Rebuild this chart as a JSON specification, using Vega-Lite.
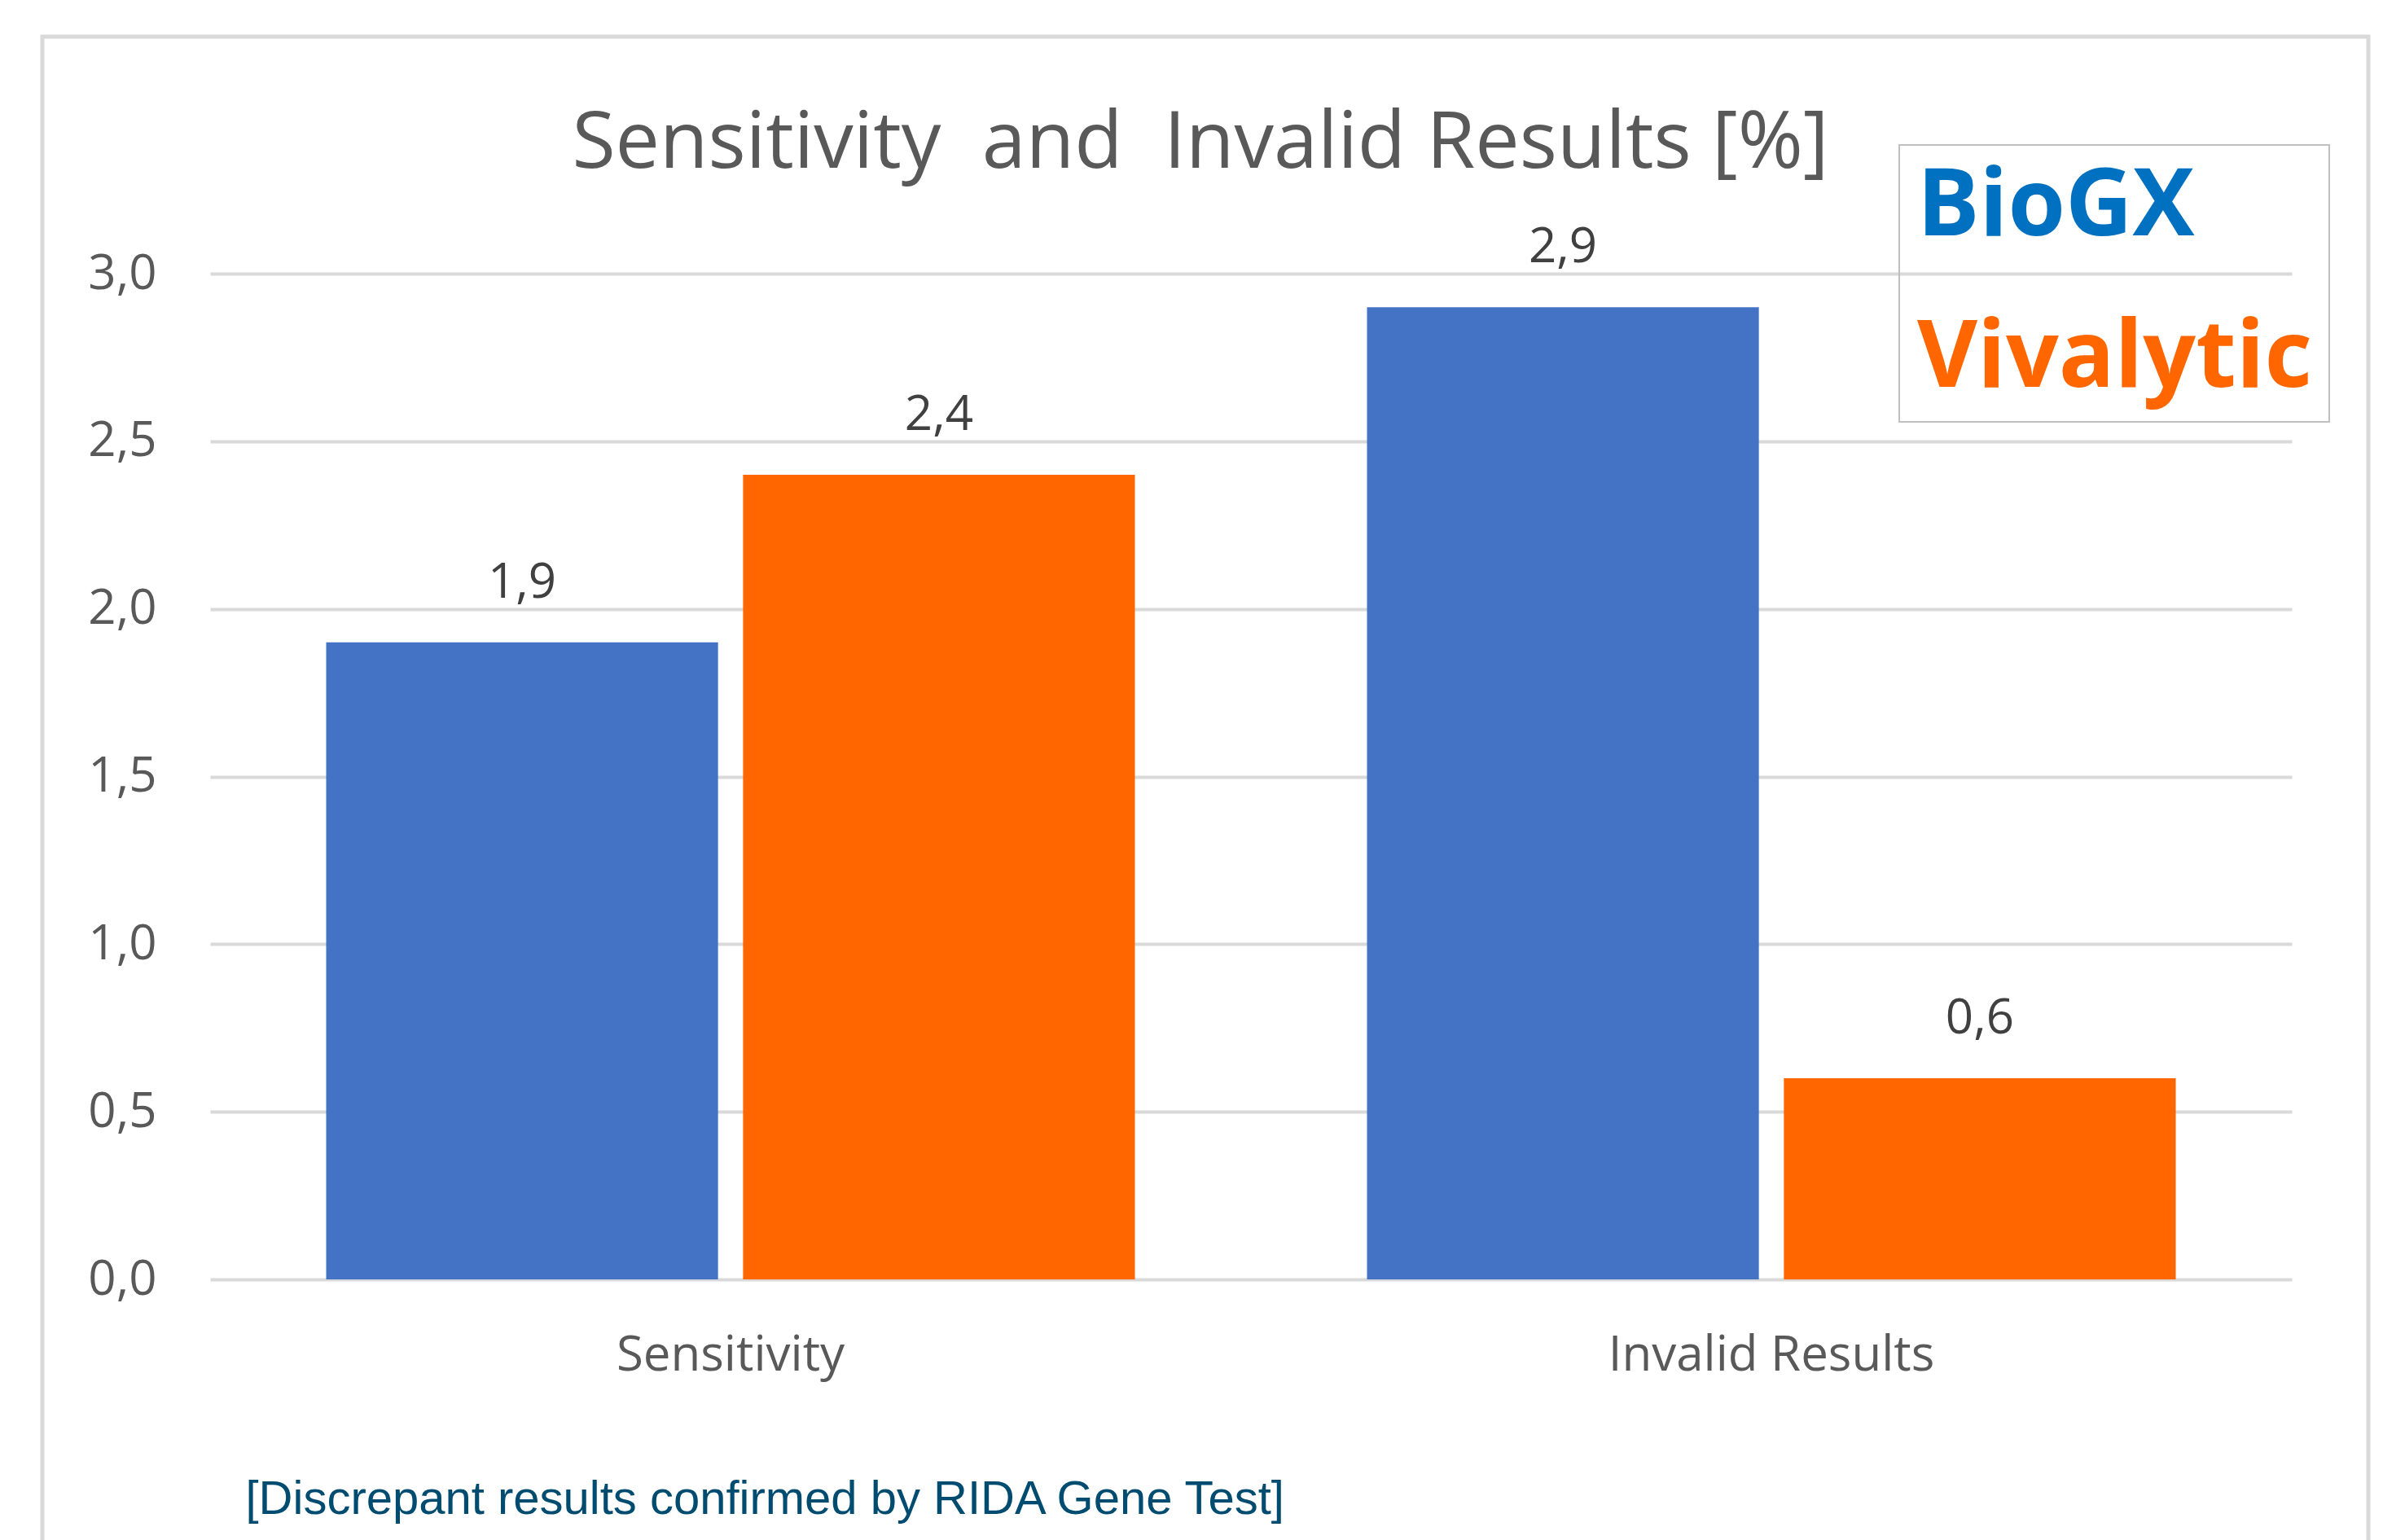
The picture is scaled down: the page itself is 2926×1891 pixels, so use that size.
{
  "$schema": "https://vega.github.io/schema/vega-lite/v6.json",
  "width": 2856,
  "height": 1850,
  "autosize": {"type": "none"},
  "padding": {"left": 52, "top": 45, "right": 18, "bottom": -4},
  "background": "white",
  "title": {
    "text": "Sensitivity\u00a0 and\u00a0 Invalid Results [%]",
    "font": "Open Sans",
    "fontSize": 97,
    "fontWeight": "normal",
    "color": "#595959",
    "anchor": "middle",
    "frame": "group",
    "baseline": "alphabetic",
    "offset": -258,
    "dx": -6
  },
  "data": {
    "values": [
      {"metric": "Sensitivity", "test": "BioGX", "value": 1.9},
      {"metric": "Sensitivity", "test": "Vivalytic", "value": 2.4},
      {"metric": "Invalid Results", "test": "BioGX", "value": 2.9},
      {"metric": "Invalid Results", "test": "Vivalytic", "value": 0.6}
    ]
  },
  "encoding": {
    "x": {
      "field": "metric",
      "type": "nominal",
      "sort": ["Sensitivity", "Invalid Results"],
      "scale": {"range": [206, 2762], "paddingInner": 0.223, "paddingOuter": 0.1115},
      "axis": {
        "orient": "bottom",
        "offset": -324,
        "domain": false,
        "ticks": false,
        "grid": false,
        "labelAngle": 0,
        "labelLimit": 0,
        "labelFont": "Open Sans",
        "labelFontSize": 60,
        "labelColor": "#595959",
        "labelPadding": 64,
        "labelBaseline": "top",
        "title": "[Discrepant results confirmed by RIDA Gene Test]",
        "titleFont": "Liberation Sans",
        "titleFontSize": 58,
        "titleFontWeight": "normal",
        "titleColor": "#004C70",
        "titleAlign": "left",
        "titleBaseline": "alphabetic",
        "titleX": 249,
        "titleY": 287
      }
    },
    "xOffset": {
      "field": "test",
      "type": "nominal",
      "sort": ["BioGX", "Vivalytic"],
      "scale": {"paddingInner": 0.06, "paddingOuter": 0}
    },
    "y": {
      "field": "value",
      "type": "quantitative",
      "scale": {"domain": [0, 3], "range": [1526, 291], "nice": false},
      "axis": {
        "title": null,
        "offset": -206,
        "values": [0, 0.5, 1, 1.5, 2, 2.5, 3],
        "format": ".1f",
        "domain": false,
        "ticks": false,
        "grid": true,
        "gridColor": "#D9D9D9",
        "gridWidth": 4,
        "labelFont": "Open Sans",
        "labelFontSize": 60,
        "labelColor": "#595959",
        "labelPadding": 66
      }
    }
  },
  "layer": [
    {
      "mark": {"type": "bar"},
      "encoding": {
        "color": {
          "field": "test",
          "type": "nominal",
          "sort": ["BioGX", "Vivalytic"],
          "scale": {"domain": ["BioGX", "Vivalytic"], "range": ["#4472C4", "#FF6600"]},
          "legend": {
            "orient": "none",
            "legendX": 2280,
            "legendY": 133,
            "title": null,
            "direction": "vertical",
            "labelFont": "Open Sans",
            "labelFontWeight": "bold",
            "labelFontSize": 114,
            "labelLimit": 0,
            "labelOffset": -112,
            "symbolSize": 0,
            "symbolOpacity": 0,
            "symbolStrokeWidth": 0,
            "padding": 20,
            "rowPadding": 72,
            "strokeColor": "#BFBFBF",
            "encode": {
              "legend": {"update": {"strokeWidth": {"value": 2}}},
              "labels": {"update": {"fill": {"signal": "datum.value === 'BioGX' ? '#0070C0' : '#FF6600'"}}}
            }
          }
        }
      }
    },
    {
      "mark": {
        "type": "text",
        "dy": -55,
        "baseline": "alphabetic",
        "align": "center",
        "font": "Open Sans",
        "fontSize": 60,
        "color": "#404040"
      },
      "encoding": {
        "text": {"field": "value", "type": "quantitative", "format": ".1f"}
      }
    }
  ],
  "config": {
    "locale": {
      "number": {"decimal": ",", "thousands": ".", "grouping": [3], "currency": ["", " €"]}
    },
    "view": {"stroke": "#D9D9D9", "strokeWidth": 5}
  }
}
